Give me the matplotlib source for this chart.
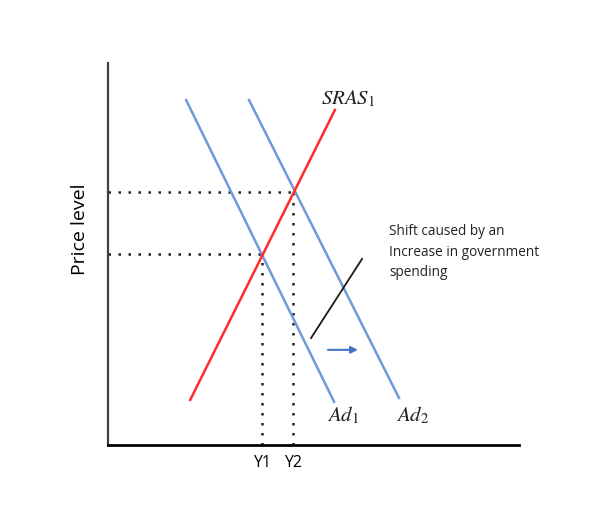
import numpy as np
import matplotlib
matplotlib.use('Agg')
import matplotlib.pyplot as plt

plt.rcParams['mathtext.fontset'] = 'stix'

# curve endpoints (quantity, price) on a 0..10 scale
sras_q = [2.00, 5.52]
sras_p = [1.18, 8.77]
ad1_q = [1.90, 5.50]
ad1_p = [9.03, 1.13]
ad2_q = [3.43, 7.08]
ad2_p = [9.03, 1.23]

# equilibrium points
eq_q = [3.75, 4.50]
eq_p = [5.00, 6.62]
eq_labels = ['Y1', 'Y2']

# annotation pointer and shift arrow
pointer_q = [4.94, 6.18]
pointer_p = [2.80, 4.87]
arrow_q = [5.35, 6.08]
arrow_p = 2.49

fig = plt.figure(figsize=(6.12, 5.11), dpi=100)
ax = fig.add_axes([0.1765, 0.1292, 0.6716, 0.7476])
ax.set_xlim(0, 10)
ax.set_ylim(0, 10)

# axes
for s in ['top', 'right']:
    ax.spines[s].set_visible(False)
ax.spines['left'].set_color('#404040')
ax.spines['left'].set_linewidth(1.6)
ax.spines['bottom'].set_color('black')
ax.spines['bottom'].set_linewidth(2.0)
ax.set_xticks([])
ax.set_yticks([])

# dotted guide lines
for q, p in zip(eq_q, eq_p):
    ax.plot([0, q], [p, p], color='#222222', lw=1.8, ls=(0, (1, 3)), zorder=1)
    ax.plot([q, q], [0, p], color='#222222', lw=1.8, ls=(0, (1, 3)), zorder=1)

# curves
ax.plot(sras_q, sras_p, color='#FF2A2A', lw=1.8, zorder=3)
ax.plot(ad1_q, ad1_p, color='#7199DA', lw=1.8, zorder=2)
ax.plot(ad2_q, ad2_p, color='#7199DA', lw=1.8, zorder=2)

# pointer line and shift arrow
ax.plot(pointer_q, pointer_p, color='#1a1a1a', lw=1.3, zorder=4)
ax.annotate('', xy=(arrow_q[1], arrow_p), xytext=(arrow_q[0], arrow_p),
            arrowprops=dict(arrowstyle='-|>', color='#4472C4', lw=1.5,
                            mutation_scale=10, shrinkA=0, shrinkB=0))

# labels
ax.text(5.18, 9.06, r'$SRAS_{\mathrm{1}}$', fontsize=15, color='#222222',
        va='center', ha='left')
ax.text(5.33, 0.79, r'$Ad_{\mathrm{1}}$', fontsize=15, color='#222222',
        va='center', ha='left')
ax.text(7.01, 0.79, r'$Ad_{\mathrm{2}}$', fontsize=15, color='#222222',
        va='center', ha='left')

ax.text(6.84, 5.78, 'Shift caused by an\nIncrease in government\nspending',
        fontsize=9.8, family='Open Sans', color='#222222', va='top', ha='left',
        linespacing=1.5)

for q, lab in zip(eq_q, eq_labels):
    ax.text(q, -0.47, lab, fontsize=11.5, family='Open Sans', ha='center',
            va='center', clip_on=False)

ax.text(-0.68, 5.65, 'Price level', fontsize=14, family='Open Sans',
        rotation=90, ha='center', va='center', clip_on=False)

fig.savefig('out.png', dpi=100)
